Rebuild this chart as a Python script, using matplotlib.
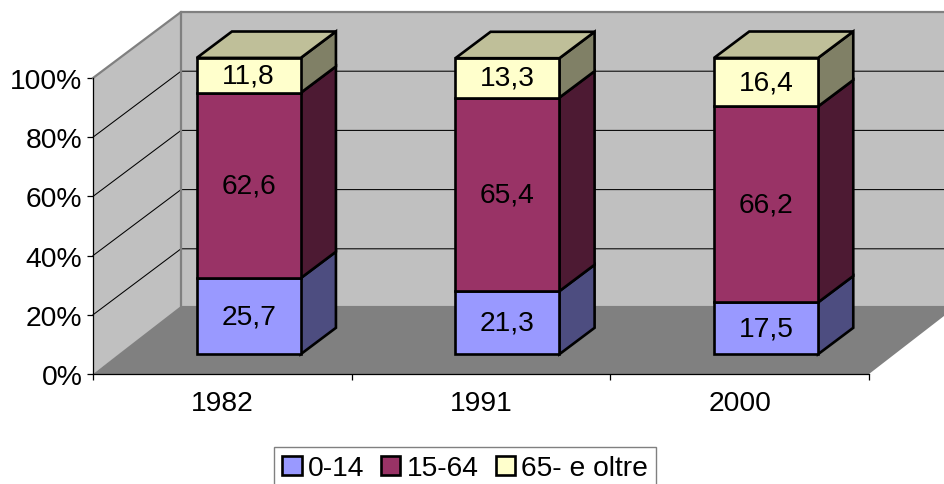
from matplotlib import pyplot as plt
from matplotlib.patches import Patch, Polygon

plt.rcParams['font.family'] = ['Liberation Sans', 'DejaVu Sans']

years = ['1982', '1991', '2000']
percent_ticks = [0, 20, 40, 60, 80, 100]
series_names = ['0-14', '15-64', '65- e oltre']
age_0_14 = [25.7, 21.3, 17.5]
age_15_64 = [62.6, 65.4, 66.2]
age_65_up = [11.8, 13.3, 16.4]
series_values = [age_0_14, age_15_64, age_65_up]

front_colors = ['#9999FF', '#993366', '#FFFFCC']
side_colors = ['#4D4D80', '#4D1A33', '#808066']
top_color = '#BFBF99'

# one depth unit = whole floor depth, in data units of the front plane
DX = 88 / 258.67
DY = 66 / 2.96
BAR_WIDTH = 104 / 258.67
BAR_FRONT = 0.30
BAR_BACK = 0.70
FLOOR_LIFT = 0.7  # back edge of the floor sits a bit above the 0% line
FONT = 20.3
BAR_LW = 1.9


def at(x, y, depth=0.0):
    return (x + DX * depth, y + DY * depth)


def poly(ax, points, color, edge='none', lw=0.0, z=1):
    ax.add_patch(Polygon(points, closed=True, facecolor=color, edgecolor=edge,
                         linewidth=lw, joinstyle='miter', clip_on=False, zorder=z))


fig = plt.figure(figsize=(9.45, 4.85), dpi=100)
ax = fig.add_axes([93 / 945, 110 / 485, 776 / 945, 296 / 485])
ax.patch.set_visible(False)
n = len(years)
ax.set_xlim(0, n)
ax.set_ylim(0, 100)

# walls and floor
poly(ax, [at(0, 0), at(0, 100), at(0, 100, 1), at(0, 0, 1)], '#C0C0C0', z=1)
poly(ax, [at(0, 0, 1), at(0, 100, 1), at(n, 100, 1), at(n, 0, 1)], '#C0C0C0', z=1)
poly(ax, [at(0, 0), at(0, FLOOR_LIFT, 1), at(n, FLOOR_LIFT, 1), at(n, 0)], '#808080', z=1.5)

for p in percent_ticks[1:-1]:
    ax.plot(*zip(at(0, p), at(0, p, 1), at(n, p, 1)), color='black', lw=0.75,
            clip_on=False, zorder=2)
ax.plot(*zip(at(0, 100), at(0, 100, 1), at(n, 100, 1)), color='#808080', lw=1.6,
        clip_on=False, zorder=2)
ax.plot(*zip(at(0, 100, 1), at(0, FLOOR_LIFT, 1)), color='#808080', lw=1.6,
        clip_on=False, zorder=2)

# stacked bars
z = 3
for i in range(n):
    x0 = i + 0.5 - BAR_WIDTH / 2
    x1 = x0 + BAR_WIDTH
    base = 0.0
    for k, values in enumerate(series_values):
        top = base + values[i]
        poly(ax, [at(x1, base, BAR_FRONT), at(x1, base, BAR_BACK),
                  at(x1, top, BAR_BACK), at(x1, top, BAR_FRONT)],
             side_colors[k], 'black', BAR_LW, z)
        poly(ax, [at(x0, base, BAR_FRONT), at(x1, base, BAR_FRONT),
                  at(x1, top, BAR_FRONT), at(x0, top, BAR_FRONT)],
             front_colors[k], 'black', BAR_LW, z + 0.1)
        lx, ly = at(i + 0.5, (base + top) / 2, BAR_FRONT)
        ax.text(lx, ly, str(values[i]).replace('.', ','), ha='center', va='center',
                fontsize=FONT, color='black', zorder=6)
        base = top
    poly(ax, [at(x0, base, BAR_FRONT), at(x1, base, BAR_FRONT),
              at(x1, base, BAR_BACK), at(x0, base, BAR_BACK)],
         top_color, 'black', BAR_LW, z + 0.2)
    z += 1

# axes
for side in ['top', 'right']:
    ax.spines[side].set_visible(False)
for side in ['left', 'bottom']:
    ax.spines[side].set_linewidth(0.9)
    ax.spines[side].set_zorder(2.5)
ax.set_yticks(percent_ticks)
ax.set_yticklabels([f'{p}%' for p in percent_ticks], fontsize=FONT)
ax.set_xticks(range(n + 1))
ax.set_xticklabels([])
ax.set_xticks([i + 0.5 for i in range(n)], minor=True)
ax.set_xticklabels(years, minor=True, fontsize=FONT)
ax.tick_params(axis='y', length=4, width=0.9, pad=3.6)
ax.tick_params(axis='x', which='major', length=4, width=0.9)
ax.tick_params(axis='x', which='minor', length=0, pad=11.7)

handles = [Patch(facecolor=c, edgecolor='black', linewidth=BAR_LW) for c in front_colors]
fig.legend(handles, series_names, loc='upper left',
           bbox_to_anchor=(274 / 945, 1 - 448 / 485), ncol=3, fontsize=FONT,
           frameon=True, fancybox=False, framealpha=1, edgecolor='#808080',
           borderaxespad=0, borderpad=0.3, handlelength=0.68, handleheight=0.68,
           handletextpad=0.22, columnspacing=0.6, labelspacing=0)

fig.savefig('out.png', dpi=100)
